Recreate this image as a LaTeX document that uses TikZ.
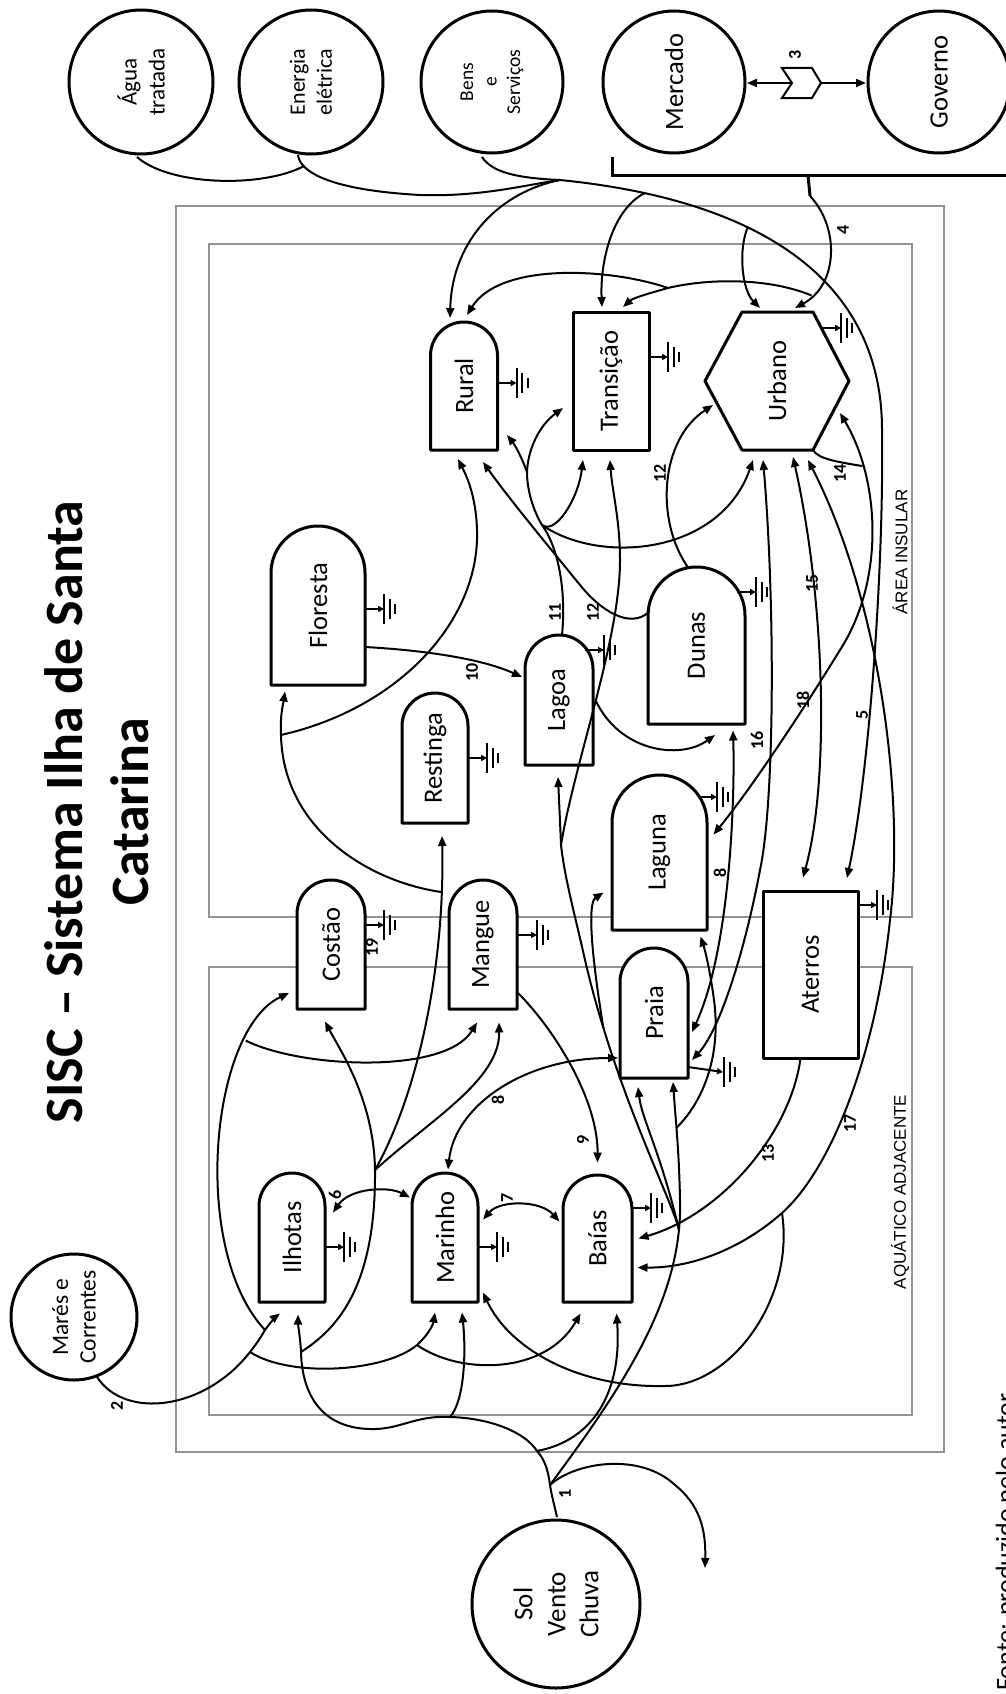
\documentclass[tikz,border=0pt]{standalone}
\usepackage{fontspec}
\setmainfont{Carlito}
\newfontfamily\arialfont{Liberation Sans}
\usetikzlibrary{arrows.meta,calc}
\tikzset{
  shp/.style={line width=3pt,line join=round,fill=white},
  conn/.style={line width=2pt},
  arr/.style={conn,-{Triangle[length=10pt,width=8pt]}},
  darr/.style={conn,{Triangle[length=10pt,width=8pt]}-{Triangle[length=10pt,width=8pt]}},
  rarr/.style={conn,{Triangle[length=10pt,width=8pt]}-},
  gbox/.style={draw=black!42,line width=2pt},
  lbl/.style={rotate=90,inner sep=0pt,font=\fontsize{18}{18}\selectfont\bfseries},
  txt/.style={rotate=90,inner sep=0pt,align=center,font=\fontsize{26.5}{32}\selectfont},
  ground/.pic={
    \draw[conn,-{Triangle[length=6pt,width=6pt]}] (0,0) -- (19,0);
    \draw[conn] (19,-15) -- (19,15) (24.5,-10) -- (24.5,10) (30,-5) -- (30,5);
  },
}
\newcommand\bulnode[6]{%
  \pgfmathsetmacro\bulxa{#2-#4/2}\pgfmathsetmacro\bulxb{#2+#4/2}%
  \pgfmathsetmacro\bulya{#3-#5/2}\pgfmathsetmacro\bulyb{#3+#5/2}%
  \pgfmathsetmacro\bulr{#4/2}\pgfmathsetmacro\bulk{0.5523*#4/2}%
  \draw[shp] (\bulxa,\bulyb) -- (\bulxa,\bulya+\bulr)
     .. controls (\bulxa,\bulya+\bulr-\bulk) and (#2-\bulk,\bulya) .. (#2,\bulya)
     .. controls (#2+\bulk,\bulya) and (\bulxb,\bulya+\bulr-\bulk) .. (\bulxb,\bulya+\bulr)
     -- (\bulxb,\bulyb) -- cycle;
  \node[txt,minimum width=#5pt,minimum height=#4pt] (#1) at (#2,#3) {#6};
}
\begin{document}
\begin{tikzpicture}[x=1pt,y=-1pt]
\useasboundingbox (0,0) rectangle (1005,1694);
% frames
\draw[gbox] (176,206) rectangle (944,1452);
\draw[gbox] (209,244) rectangle (912,917);
\draw[gbox] (209,967) rectangle (912,1415);
\node[rotate=90,font=\arialfont\fontsize{17}{20}\selectfont] (ins) at (900,552) {ÁREA INSULAR};
\node[rotate=90,font=\arialfont\fontsize{17}{20}\selectfont] (aqu) at (900,1192) {AQUÁTICO ADJACENTE};
% title
\node[rotate=90,align=center,inner sep=0pt,font=\fontsize{54}{66}\selectfont\bfseries] (title) at (97,812) {SISC – Sistema Ilha de Santa\\Catarina};
\node[rotate=90,inner sep=0pt,font=\fontsize{26}{30}\selectfont] (fonte) at (1007,1542) {Fonte: produzido pelo autor};
% sources
\node[txt,circle,draw,shp,minimum size=144pt,font=\fontsize{23}{28}\selectfont] (agua) at (141,82) {Água\\tratada};
\node[txt,circle,draw,shp,minimum size=144pt,font=\fontsize{22}{27}\selectfont] (energia) at (311,82) {Energia\\elétrica};
\node[txt,circle,draw,shp,minimum size=142pt,font=\fontsize{19.5}{23.5}\selectfont] (bens) at (492,82) {Bens\\e\\Serviços};
\node[txt,circle,draw,shp,minimum size=142pt] (mercado) at (674,82) {Mercado};
\node[txt,circle,draw,shp,minimum size=142pt] (governo) at (939,82) {Governo};
\node[txt,circle,draw,shp,minimum size=126pt,font=\fontsize{23.5}{27.5}\selectfont] (mares) at (74,1317) {Marés e\\Correntes};
\node[txt,circle,draw,shp,minimum size=168pt,font=\fontsize{27}{33}\selectfont] (sol) at (556,1604) {Sol\\Vento\\Chuva};
% brace and tag
\draw[line width=3pt] (612,157) -- (612,175) -- (1010,175);
\draw[line width=3pt] (808,175) -- (810,196);
\coordinate (bracetip) at (810,196);
\draw[conn,fill=white] (782,68) -- (812,68) -- (821,83) -- (812,98) -- (782,98) -- (792,83) -- cycle;
\coordinate (tag) at (801,83);
\draw[arr] ($(tag)+(-9,0)$) -- ($(mercado)+(73,1)$);
\draw[arr] ($(tag)+(20,0)$) -- ($(governo)+(-73,1)$);
\node[lbl] (l3) at (795,55) {3};
% ecosystem nodes
\bulnode{rural}{464}{386}{67}{128}{Rural}
\bulnode{floresta}{318}{605.5}{94}{159}{Floresta}
\bulnode{restinga}{435}{758}{66}{130}{Restinga}
\bulnode{lagoa}{559}{700}{68}{130}{Lagoa}
\bulnode{dunas}{696.5}{645.5}{97}{157}{Dunas}
\bulnode{laguna}{659.5}{852.5}{95}{155}{Laguna}
\bulnode{costao}{331}{944.5}{68}{129}{Costão}
\bulnode{mangue}{483}{944.5}{68}{129}{Mangue}
\bulnode{praia}{654}{1013}{68}{130}{Praia}
\bulnode{ilhotas}{292}{1237.5}{66}{129}{Ilhotas}
\bulnode{marinho}{445}{1237.5}{66}{129}{Marinho}
\bulnode{baias}{597.5}{1238.5}{69}{127}{Baías}
\node[txt,draw,shp,minimum width=138pt,minimum height=76pt] (transicao) at (611,381) {Transição};
\node[txt,draw,shp,minimum width=167pt,minimum height=95pt] (aterros) at (810.5,974.5) {Aterros};
\draw[shp] (742,312) -- (813,312) -- (849,381) -- (813,450) -- (742,450) -- (705,381) -- cycle;
\node[txt] (urbano) at (777,381) {Urbano};
% grounds
\pic at ($(rural)+(33.5,-3)$) {ground};
\pic at ($(transicao)+(38,-24)$) {ground};
\pic at ($(urbano)+(45,-53)$) {ground};
\pic at ($(floresta)+(47,3.5)$) {ground};
\pic at ($(lagoa)+(26,-50)$) {ground};
\pic at ($(restinga)+(33,0)$) {ground};
\pic at ($(dunas)+(40.5,-53.5)$) {ground};
\pic at ($(laguna)+(38.5,-55.5)$) {ground};
\pic at ($(costao)+(34,-19.5)$) {ground};
\pic at ($(mangue)+(35,-9.5)$) {ground};
\pic at ($(baias)+(34.5,-30.5)$) {ground};
\pic at ($(marinho)+(33,9.5)$) {ground};
\pic at ($(ilhotas)+(33,9.5)$) {ground};
\pic at ($(aterros)+(47.5,-69.5)$) {ground};
\draw[conn,-{Triangle[length=6pt,width=6pt]}] ($(praia)+(34,54)$) -- ($(praia)+(69,59)$);
\draw[conn] ($(praia)+(70,44)$) -- ++(0,30) ($(praia)+(75.5,49)$) -- ++(0,20) ($(praia)+(81,54)$) -- ++(0,10);
% top inflows
\coordinate (jEB) at (560,180);
\draw[conn] ($(energia)+(-13,73)$) .. controls (300,172) and (330,190) .. coordinate[pos=0.22] (jAE) (420,195) .. controls (480,197) and (525,185) .. (jEB);
\draw[conn] ($(agua)+(-4,75)$) .. controls (170,186) and (262,188) .. (jAE);
\draw[arr] ($(bens)+(-10,75)$) .. controls (492,172) and (515,178) .. (jEB) .. controls (760,200) and (882,280) .. coordinate[pos=0.15] (jB2) coordinate[pos=0.37] (jB3) (882,430) .. controls (884,560) and (870,770) .. ($(aterros)+(36.5,-96.5)$);
\node[lbl] (l5) at (862,715) {5};
\draw[arr] (jEB) .. controls (500,192) and (452,240) .. ($(rural)+(-14,-68)$);
\draw[arr] (jB2) .. controls (612,210) and (600,262) .. ($(transicao)+(-9,-74)$);
\draw[arr] (jB3) .. controls (738,250) and (742,290) .. ($(urbano)+(-17,-73)$);
\draw[arr] (bracetip) .. controls (840,228) and (838,285) .. coordinate[pos=0.85] (j4) ($(urbano)+(18,-73)$);
\node[lbl] (l4) at (843,230) {4};
\coordinate (jR4) at (668,288);
\draw[conn] (j4) .. controls (770,278) and (710,278) .. (jR4);
\draw[arr] (jR4) .. controls (650,293) and (633,298) .. ($(transicao)+(12,-74)$);
\draw[arr] (jR4) .. controls (610,268) and (500,262) .. ($(rural)+(3,-71)$);
% insular links
\draw[arr] ($(floresta)+(47,41.5)$) .. controls (420,650) and (480,658) .. ($(lagoa)+(-37,-23)$);
\node[lbl] (l10) at (472,672) {10};
\coordinate (j11) at (542,525);
\coordinate (j11b) at (527,472);
\draw[conn] ($(lagoa)+(3,-65)$) .. controls (566,595) and (560,550) .. (j11);
\draw[conn] (j11) .. controls (533,510) and (527,490) .. (j11b);
\draw[arr] (j11b) .. controls (522,458) and (515,445) .. ($(rural)+(43,49)$);
\draw[arr] (j11b) .. controls (528,448) and (540,425) .. ($(transicao)+(-48,27)$);
\draw[arr] (j11) .. controls (555,535) and (578,500) .. ($(transicao)+(-28,79)$);
\draw[arr] (j11) .. controls (600,565) and (720,555) .. ($(urbano)+(-24,79)$);
\node[lbl] (l11) at (555,612) {11};
\draw[arr] ($(dunas)+(-47,-34)$) .. controls (630,630) and (600,610) .. (580,585) .. controls (550,548) and (510,500) .. ($(rural)+(19,76)$);
\node[lbl] (l12a) at (593,612) {12};
\draw[arr] ($(dunas)+(-8.5,-78)$) .. controls (655,520) and (660,440) .. ($(urbano)+(-64,24)$);
\node[lbl] (l12b) at (660,473) {12};
\draw[darr] ($(urbano)+(16,76)$) .. controls (825,600) and (830,780) .. ($(aterros)+(-7.5,-97)$);
\node[lbl] (l15) at (812,583) {15};
\draw[darr] ($(urbano)+(63,32)$) .. controls (880,480) and (885,580) .. coordinate[pos=0.24] (j18t) (840,650) .. controls (800,715) and (750,790) .. ($(laguna)+(54,-18)$);
\draw[conn] ($(urbano)+(36,69)$) .. controls (818,459) and (838,462) .. (j18t);
\node[lbl] (l18) at (803,700) {18};
\node[lbl] (l14) at (840,473) {14};
\draw[darr] ($(urbano)+(-14,79)$) .. controls (775,600) and (775,800) .. (760,870) .. controls (745,950) and (720,1030) .. ($(praia)+(38,47)$);
\draw[darr] ($(dunas)+(36.5,85)$) .. controls (735,800) and (730,950) .. ($(praia)+(38,19)$);
\node[lbl] (l16) at (757,740) {16};
\coordinate (j17) at (782,1213);
\draw[rarr] ($(urbano)+(31,79)$) .. controls (880,600) and (905,800) .. (890,920) .. controls (875,1060) and (830,1170) .. (j17);
\draw[arr] (j17) .. controls (740,1250) and (690,1268) .. ($(baias)+(40,29)$);
\draw[arr] (j17) .. controls (795,1300) and (730,1386) .. (665,1386) .. controls (580,1388) and (510,1350) .. ($(marinho)+(38,55)$);
\node[lbl] (l17) at (850,1123) {17};
\draw[arr] ($(aterros)+(-10,84)$) .. controls (790,1135) and (720,1215) .. ($(baias)+(41,0)$);
\node[lbl] (l13) at (768,1153) {13};
% aquatic links
\draw[darr] ($(ilhotas)+(41,-25)$) .. controls (350,1188) and (388,1186) .. ($(marinho)+(-35,-40)$);
\node[lbl] (l6) at (335,1195) {6};
\draw[darr] ($(marinho)+(38,-18)$) .. controls (500,1200) and (540,1200) .. ($(baias)+(-38,-17)$);
\node[lbl] (l7) at (507,1198) {7};
\draw[darr] ($(marinho)+(3,-68)$) .. controls (455,1105) and (525,1058) .. ($(praia)+(-36,45)$);
\node[lbl] (l8a) at (498,1100) {8};
\draw[arr] ($(mangue)+(35,48.5)$) .. controls (555,1030) and (598,1100) .. ($(baias)+(0,-76)$);
\node[lbl] (l9) at (583,1140) {9};
\node[lbl] (l19) at (372,947) {19};
\node[lbl] (l8b) at (720,873) {8};
% tides
\coordinate (jM1) at (250,1352);
\coordinate (jM2) at (265,1330);
\coordinate (jMB) at (417,1345);
\draw[arr] ($(mares)+(23,60)$) .. controls (125,1420) and (205,1410) .. (jM1) .. controls (258,1342) and (262,1335) .. (jM2) .. controls (272,1320) and (278,1315) .. ($(ilhotas)+(-12,76)$);
\node[lbl] (l2) at (117,1406) {2};
\draw[arr] (jM2) .. controls (190,1250) and (210,1030) .. coordinate[pos=0.78] (jLp) ($(costao)+(-42,48.5)$);
\draw[arr] (jLp) .. controls (300,1068) and (445,1075) .. ($(mangue)+(-6,78)$);
\draw[conn] (jM1) .. controls (290,1378) and (385,1372) .. (jMB);
\draw[arr] (jMB) .. controls (428,1335) and (433,1325) .. ($(marinho)+(-10,75)$);
\draw[arr] (jMB) .. controls (460,1375) and (545,1375) .. ($(baias)+(-17,75)$);
% sun
\coordinate (jS0) at (550,1485);
\coordinate (jS2) at (537,1451);
\coordinate (jS1) at (450,1417);
\coordinate (jS3) at (301,1352);
\coordinate (jL1) at (375,1170);
\coordinate (jF) at (281,735);
\coordinate (sink) at (705,1568);
\draw[conn] ($(sol)+(1,-87)$) .. controls (553,1500) and (551,1492) .. (jS0) .. controls (548,1470) and (545,1460) .. (jS2) .. controls (525,1432) and (490,1418) .. (jS1) .. controls (415,1415) and (400,1430) .. (370,1429) .. controls (322,1428) and (302,1395) .. (jS3);
\node[lbl] (l1) at (565,1494) {1};
\draw[arr] (jS3) .. controls (300,1335) and (298,1325) .. ($(ilhotas)+(6,77)$);
\draw[arr] (jS1) .. controls (465,1400) and (466,1350) .. ($(marinho)+(17,75)$);
\draw[arr] (jS2) .. controls (595,1440) and (622,1390) .. ($(baias)+(19,75)$);
\draw[arr] (jS0) .. controls (620,1390) and (683,1300) .. coordinate[pos=0.9] (jSPa) (680,1200) .. controls (679,1150) and (676,1125) .. coordinate[pos=0.6] (jP) ($(praia)+(19,69)$);
\draw[arr] (jS0) .. controls (575,1462) and (640,1452) .. (675,1485) .. controls (700,1505) and (706,1530) .. (sink);
\draw[conn] (jS3) .. controls (335,1330) and (376,1290) .. (jL1);
\draw[arr] (jL1) .. controls (374,1100) and (340,1050) .. ($(costao)+(-6,77)$);
\draw[arr] (jL1) .. controls (420,1090) and (445,960) .. coordinate[pos=0.85] (jR1) ($(restinga)+(7,78)$);
\draw[arr] (jL1) .. controls (430,1120) and (500,1080) .. ($(mangue)+(16,78)$);
\draw[arr] (jR1) .. controls (370,882) and (283,830) .. (jF) .. controls (280,715) and (283,705) .. ($(floresta)+(-33,86)$);
\draw[arr] (jF) .. controls (400,708) and (480,620) .. (477,530) .. controls (476,495) and (466,475) .. ($(rural)+(-6,73)$);
% sun to lagoons
\coordinate (jLg) at (561,845);
\draw[conn] (jSPa) .. controls (672,1200) and (615,1090) .. coordinate[pos=0.82] (jLa) (585,960) .. controls (575,915) and (565,880) .. (jLg);
\draw[arr] (jLg) .. controls (560,820) and (559,800) .. ($(lagoa)+(-1,77)$);
\draw[arr] (jLg) .. controls (575,760) and (620,640) .. coordinate[pos=0.5] (jDn) (620,560) .. controls (620,520) and (612,490) .. ($(transicao)+(-1,79)$);
\draw[arr] (jDn) .. controls (620,752) and (680,760) .. ($(dunas)+(18.5,89.5)$);
\draw[arr] (jLa) .. controls (585,915) and (592,900) .. ($(laguna)+(-56,40)$);
\draw[arr] (jSPa) .. controls (660,1150) and (642,1120) .. ($(praia)+(-16,74)$);
\draw[arr] (jP) .. controls (700,1105) and (722,1060) .. (714,1000) .. controls (710,970) and (705,950) .. ($(laguna)+(41,84)$);
\end{tikzpicture}
\end{document}
